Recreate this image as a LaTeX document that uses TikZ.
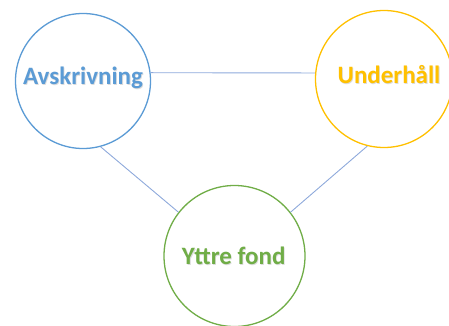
\documentclass[tikz,border=0pt]{standalone}
\usepackage{fontspec}
\setmainfont{Carlito}
\definecolor{cblue}{HTML}{5B9BD5}
\definecolor{cyel}{HTML}{FFC000}
\definecolor{cgreen}{HTML}{70AD47}
\definecolor{cline}{HTML}{8EA9DB}
\begin{document}
\begin{tikzpicture}[x=1pt,y=-1pt,
  bub/.style={circle,draw,line width=1.3pt,minimum size=#1,inner sep=0pt,fill=white},
  lbl/.style={font=\bfseries\fontsize{25}{27}\selectfont},
  shd/.style={lbl,text=black!30,opacity=0.45},
  conn/.style={draw=cline,line width=0.9pt}]
\useasboundingbox (0,0) rectangle (449,326);
\node[bub=135pt,draw=cblue] (a) at (83,81) {};
\node[bub=137pt,draw=cyel] (u) at (384,79) {};
\node[bub=141pt,draw=cgreen] (y) at (234.5,256) {};
\draw[conn] (a.7) -- (u.175);
\draw[conn] (a.-75) -- (y.142);
\draw[conn] (u.-104) -- (y.38);
\node[shd] (sa) at (83.8,78.8) {Avskrivning};
\node[lbl,text=cblue] (ta) at (83,78) {Avskrivning};
\node[shd] (su) at (389.8,75.8) {Underhåll};
\node[lbl,text=cyel] (tu) at (389,75) {Underhåll};
\node[shd] (sy) at (234.5,256.8) {Yttre fond};
\node[lbl,text=cgreen] (ty) at (233.7,256) {Yttre fond};
\end{tikzpicture}
\end{document}
